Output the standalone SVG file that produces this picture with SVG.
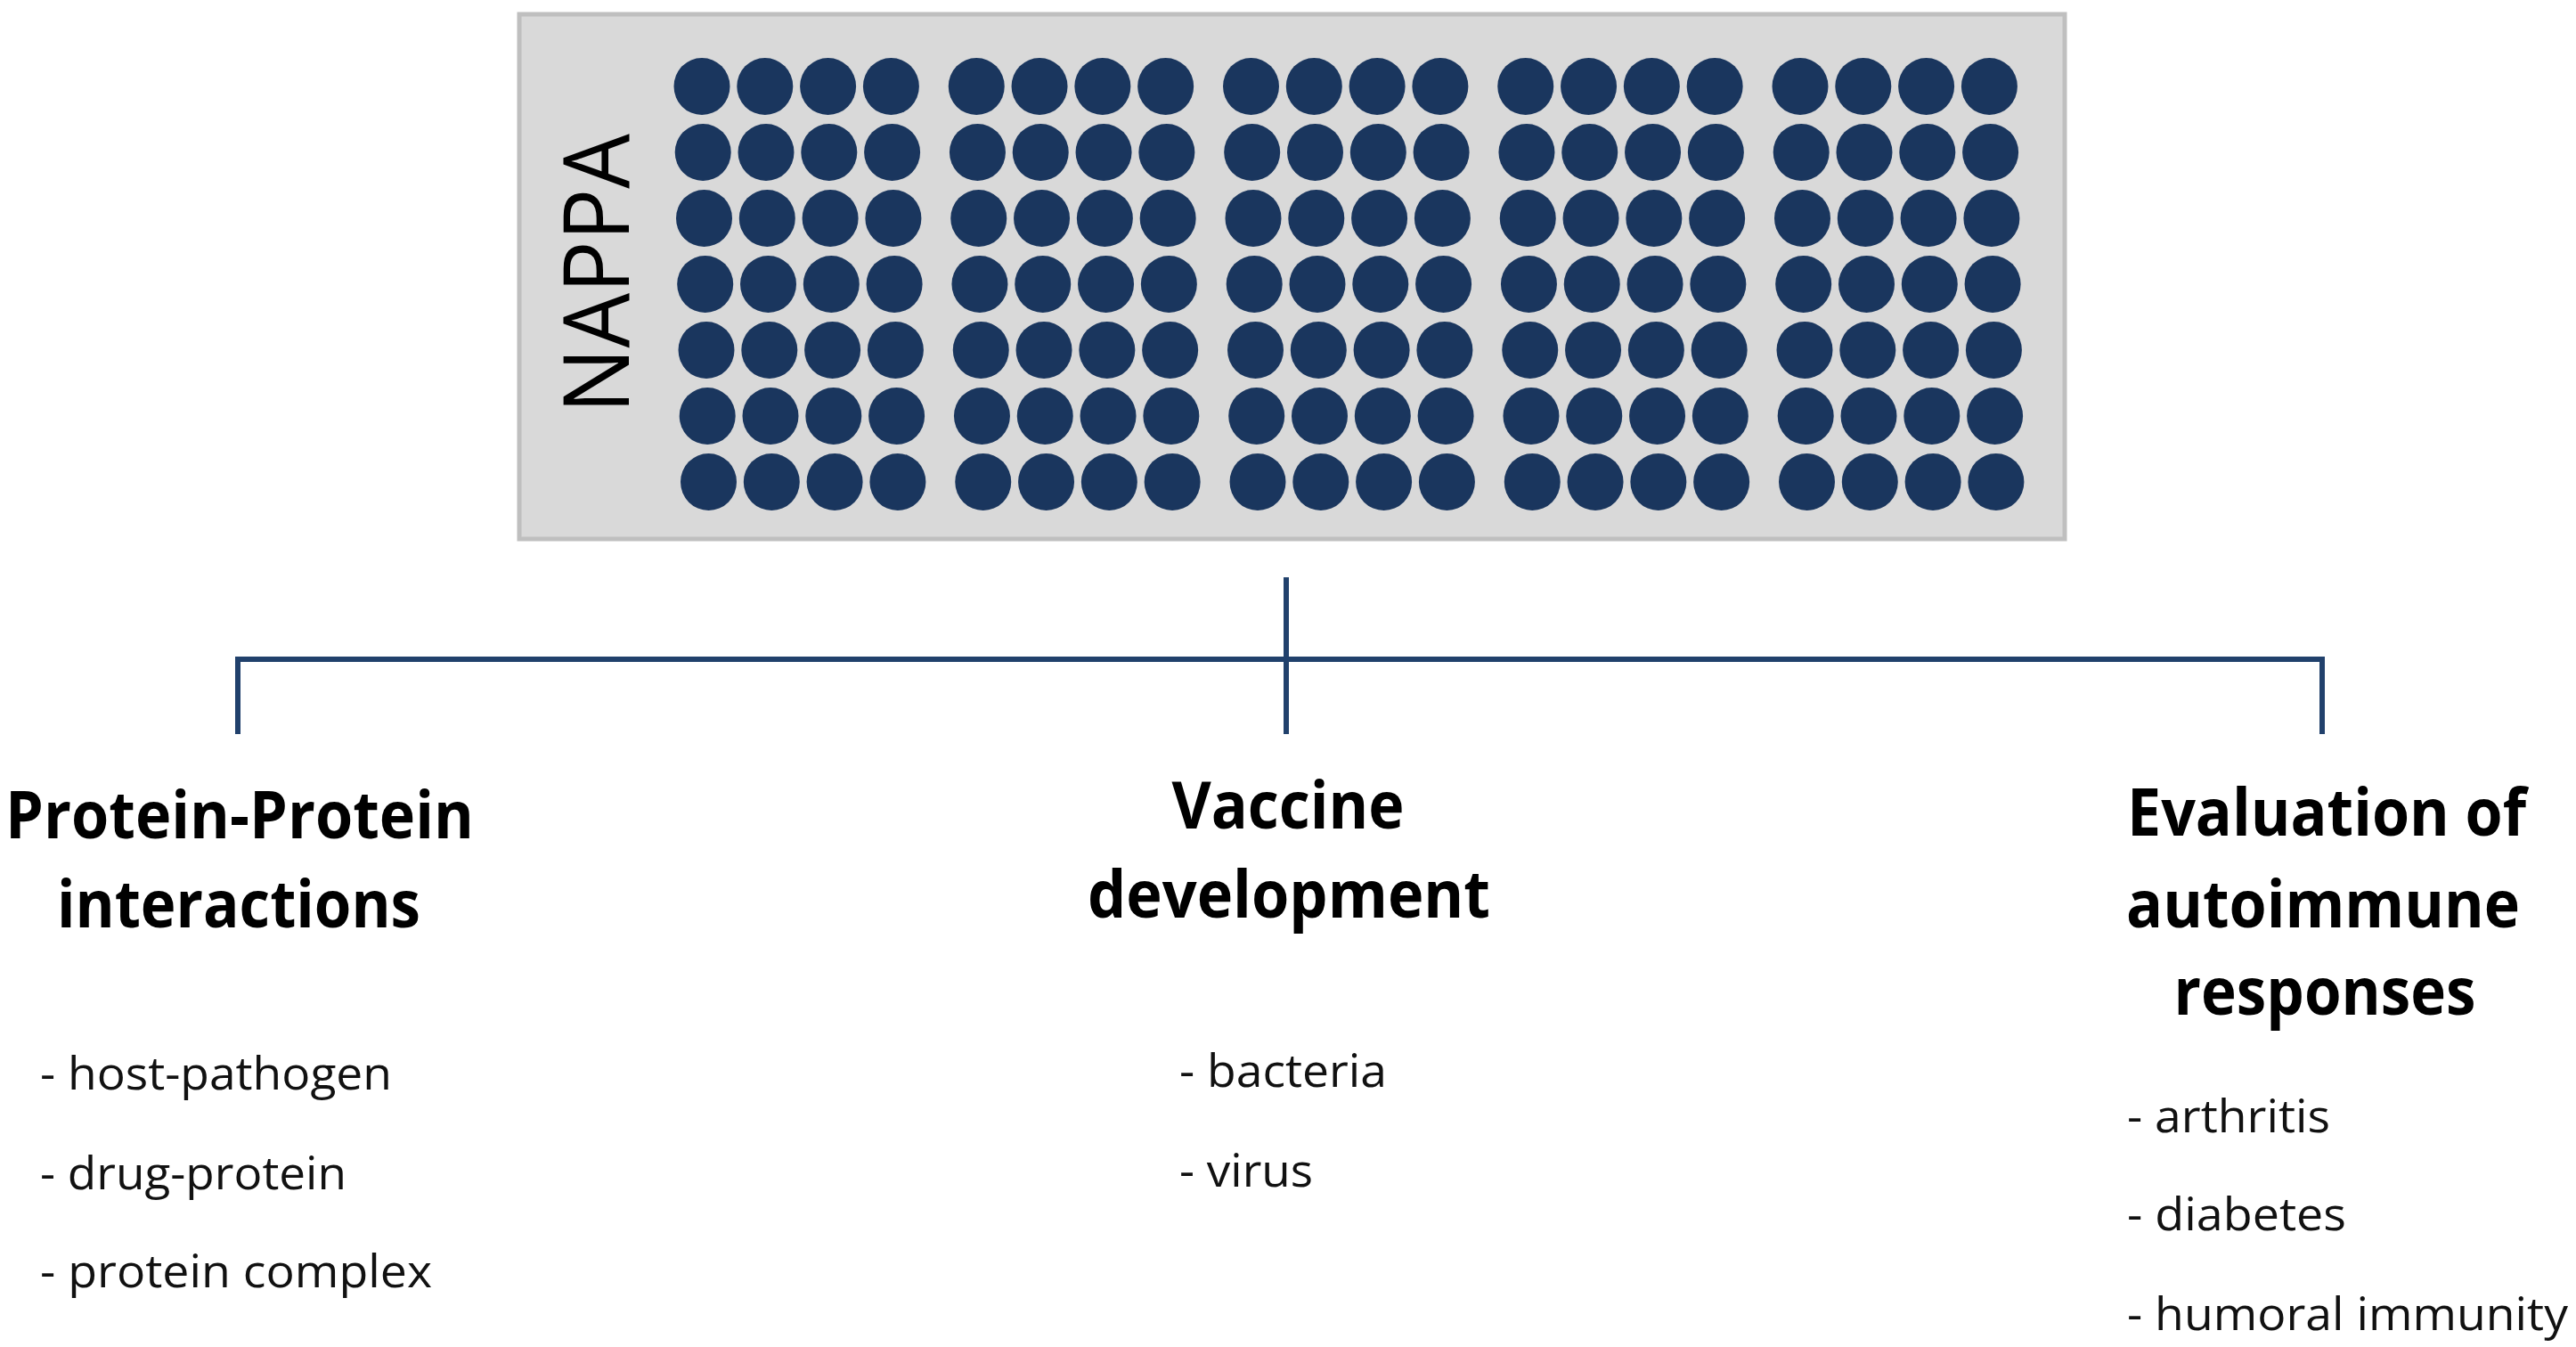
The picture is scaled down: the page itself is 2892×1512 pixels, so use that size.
<svg xmlns="http://www.w3.org/2000/svg" xmlns:xlink="http://www.w3.org/1999/xlink" width="2892" height="1512" viewBox="0 0 2892 1512">
<style>
.hdr{font-family:"Open Sans","Liberation Sans",sans-serif;font-weight:bold;font-size:74px;fill:#000;text-anchor:middle}
.item{font-family:"Open Sans","Liberation Sans",sans-serif;font-size:52px;fill:#111}
.conn{stroke:#21416c;stroke-width:6;fill:none}
.dot{fill:#1a365e}
</style>
<defs>
<g id="group4">
<ellipse class="dot" cx="0" cy="0" rx="31.5" ry="32"/>
<ellipse class="dot" cx="70.8" cy="0" rx="31.5" ry="32"/>
<ellipse class="dot" cx="141.6" cy="0" rx="31.5" ry="32"/>
<ellipse class="dot" cx="212.4" cy="0" rx="31.5" ry="32"/>
</g>
<g id="row">
<use xlink:href="#group4" x="0"/>
<use xlink:href="#group4" x="308.25"/>
<use xlink:href="#group4" x="616.5"/>
<use xlink:href="#group4" x="924.75"/>
<use xlink:href="#group4" x="1233"/>
</g>
</defs>
<rect width="2892" height="1512" fill="#ffffff"/>
<g id="nappa">
<rect x="583" y="16" width="1735" height="589" fill="#d9d9d9" stroke="#bfbfbf" stroke-width="5"/>
<text transform="translate(706,307) rotate(-90)" text-anchor="middle" font-family="Open Sans, Liberation Sans, sans-serif" font-size="102" fill="#000" textLength="314" lengthAdjust="spacingAndGlyphs">NAPPA</text>
<use xlink:href="#row" x="788" y="97"/>
<use xlink:href="#row" x="789.2" y="171"/>
<use xlink:href="#row" x="790.5" y="245"/>
<use xlink:href="#row" x="791.7" y="319"/>
<use xlink:href="#row" x="793" y="393"/>
<use xlink:href="#row" x="794.2" y="467"/>
<use xlink:href="#row" x="795.5" y="541"/>
</g>
<g id="connectors">
<line class="conn" x1="1444" y1="648" x2="1444" y2="824"/>
<polyline class="conn" points="267,824 267,740 2607,740 2607,824"/>
</g>
<g id="ppi">
<text class="hdr" x="269" y="941" textLength="526" lengthAdjust="spacingAndGlyphs">Protein-Protein</text>
<text class="hdr" x="268" y="1041" textLength="408" lengthAdjust="spacingAndGlyphs">interactions</text>
<text class="item" x="45" y="1223" textLength="395" lengthAdjust="spacingAndGlyphs">- host-pathogen</text>
<text class="item" x="45" y="1335" textLength="344" lengthAdjust="spacingAndGlyphs">- drug-protein</text>
<text class="item" x="45" y="1445" textLength="440" lengthAdjust="spacingAndGlyphs">- protein complex</text>
</g>
<g id="vaccine">
<text class="hdr" x="1446" y="930" textLength="261" lengthAdjust="spacingAndGlyphs">Vaccine</text>
<text class="hdr" x="1447" y="1030" textLength="452" lengthAdjust="spacingAndGlyphs">development</text>
<text class="item" x="1324" y="1220" textLength="233" lengthAdjust="spacingAndGlyphs">- bacteria</text>
<text class="item" x="1324" y="1332" textLength="150" lengthAdjust="spacingAndGlyphs">- virus</text>
</g>
<g id="autoimmune">
<text class="hdr" x="2612" y="938" textLength="448" lengthAdjust="spacingAndGlyphs">Evaluation of</text>
<text class="hdr" x="2608" y="1041" textLength="442" lengthAdjust="spacingAndGlyphs">autoimmune</text>
<text class="hdr" x="2610" y="1139" textLength="339" lengthAdjust="spacingAndGlyphs">responses</text>
<text class="item" x="2388" y="1271" textLength="228" lengthAdjust="spacingAndGlyphs">- arthritis</text>
<text class="item" x="2388" y="1381" textLength="246" lengthAdjust="spacingAndGlyphs">- diabetes</text>
<text class="item" x="2388" y="1493" textLength="495" lengthAdjust="spacingAndGlyphs">- humoral immunity</text>
</g>
</svg>
